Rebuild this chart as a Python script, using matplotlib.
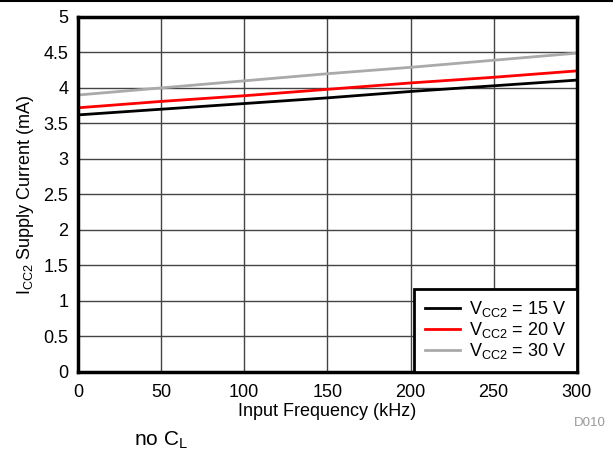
import numpy as np
import matplotlib.pyplot as plt
from matplotlib.lines import Line2D

plt.rcParams['font.family'] = ['Liberation Sans', 'DejaVu Sans']
plt.rcParams['mathtext.fontset'] = 'custom'
plt.rcParams['mathtext.rm'] = 'Liberation Sans'

# input frequency (kHz)
freq = [0, 50, 100, 150, 200, 250, 300]
# ICC2 supply current (mA)
icc_15v = [3.62, 3.70, 3.78, 3.86, 3.95, 4.03, 4.11]
icc_20v = [3.72, 3.81, 3.89, 3.98, 4.07, 4.15, 4.24]
icc_30v = [3.90, 4.00, 4.10, 4.20, 4.29, 4.39, 4.49]

labels = [r'V$_{\rm CC2}$ = 15 V', r'V$_{\rm CC2}$ = 20 V', r'V$_{\rm CC2}$ = 30 V']
colors = ['black', 'red', '#aaaaaa']

fs = 13

fig = plt.figure(figsize=(6.13, 4.57), dpi=100)
ax = fig.add_axes([0.127, 0.186, 0.814, 0.777])

for vals, lab, col in zip([icc_15v, icc_20v, icc_30v], labels, colors):
    ax.plot(freq, vals, color=col, lw=2, label=lab)

ax.set_xlim(0, 300)
ax.set_ylim(0, 5)
ax.set_xticks(np.arange(0, 301, 50))
ax.set_yticks(np.arange(0, 5.01, 0.5))
ax.set_yticklabels(['0', '0.5', '1', '1.5', '2', '2.5', '3', '3.5', '4', '4.5', '5'])
ax.grid(True, color='#444444', lw=1)
ax.set_axisbelow(True)
for s in ax.spines.values():
    s.set_linewidth(2.5)
ax.tick_params(length=0, labelsize=fs, pad=7)
ax.tick_params(axis='x', pad=9)

ax.set_xlabel('Input Frequency (kHz)', fontsize=fs, labelpad=1)
ax.set_ylabel(r'I$_{\rm CC2}$ Supply Current (mA)', fontsize=fs, labelpad=5)

leg = ax.legend(loc='lower right', fontsize=fs, fancybox=False, framealpha=1,
                edgecolor='black', borderaxespad=0, handlelength=1.9,
                labelspacing=0.05, borderpad=0.6, handletextpad=0.5)
leg.get_frame().set_linewidth(2)

fig.add_artist(Line2D([0, 1], [0.998, 0.998], color='black', lw=1.5))
fig.text(0.962, 0.074, 'D010', fontsize=9.5, color='#999999', ha='center', va='center')
fig.text(0.262, 0.037, r'no C$_{\rm L}$', fontsize=15, ha='center', va='center')

fig.savefig('out.png', dpi=100)
